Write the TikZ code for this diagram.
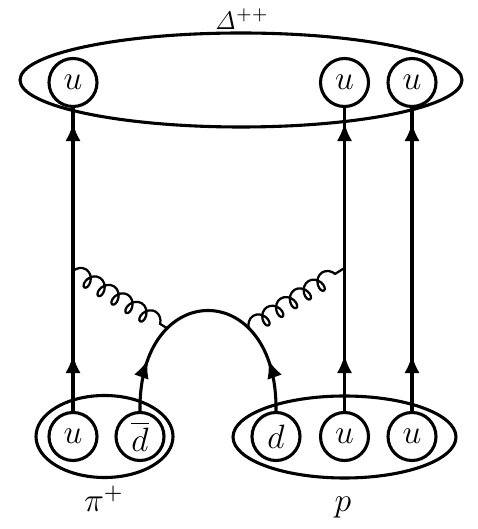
\documentclass[tikz,border=0pt]{standalone}
\usetikzlibrary{shapes.geometric,arrows.meta,decorations.markings,decorations.pathmorphing}

\tikzstyle{quarkNode}=[circle,draw,line width=1.1pt,minimum size=0.6cm,inner sep=0pt,font=\fontsize{12}{14}\selectfont]
\tikzstyle{hadronNode}=[ellipse,draw,line width=1.1pt,inner sep=0pt]
\tikzstyle{labelNode}=[anchor=base,inner sep=0pt,font=\fontsize{12}{14}\selectfont]
\tikzstyle{quarkLine}=[draw,line width=1.1pt,postaction={decorate},
  decoration={markings,
    mark=at position 0.7cm with {\arrow{Latex[length=6.5pt,width=5.5pt]}},
    mark=at position 3.6cm with {\arrow{Latex[length=6.5pt,width=5.5pt]}}}]
\tikzstyle{arcLine}=[draw,line width=1.1pt,postaction={decorate},
  decoration={markings,
    mark=at position 0.65cm with {\arrow{Latex[length=6.5pt,width=5.5pt]}},
    mark=at position -0.65cm with {\arrowreversed{Latex[length=6.5pt,width=5.5pt]}}}]
\tikzstyle{gluonLine}=[draw,line width=0.8pt,decorate,
  decoration={coil,amplitude=2.9pt,segment length=5.8pt,aspect=0.75}]

\begin{document}
\begin{tikzpicture}[x=1.25mm,y=1.25mm]

  \useasboundingbox (0,0) rectangle (47.7,52.9);

  % Delta++ at the top
  \node[hadronNode,minimum width=5.525cm,minimum height=1.175cm] (delta) at (24.1,44.9) {};
  \node[labelNode,font=\fontsize{9}{10}\selectfont] (deltaLabel) at (24.2,49.9) {$\mathit{\Delta}^{++}$};
  \node[quarkNode] (tu1) at (7.3,44.65) {$u$};
  \node[quarkNode] (tu2) at (34.45,44.65) {$u$};
  \node[quarkNode] (tu3) at (41.2,44.65) {$u$};

  % pi+ and p at the bottom
  \node[hadronNode,minimum width=1.7125cm,minimum height=1.025cm] (pion) at (10.45,9.25) {};
  \node[hadronNode,minimum width=2.7875cm,minimum height=1.025cm] (proton) at (34.45,9.2) {};
  \node[quarkNode] (bu1) at (7.3,9.25) {$u$};
  \node[quarkNode] (bdbar) at (14.0,9.25) {$\overline{d}$};
  \node[quarkNode] (bd) at (27.6,9.25) {$d$};
  \node[quarkNode] (bu2) at (34.45,9.25) {$u$};
  \node[quarkNode] (bu3) at (41.2,9.25) {$u$};
  \node[labelNode] (pionLabel) at (10.4,1.7) {$\pi^+$};
  \node[labelNode] (protonLabel) at (34.3,1.7) {$p$};

  \coordinate (vl) at (7.3,25.8);
  \coordinate (vr) at (34.45,26.1);

  \path[quarkLine](bu1.north)--(tu1.south);
  \path[quarkLine](bu2.north)--(tu2.south);
  \path[quarkLine](bu3.north)--(tu3.south);
  \path[arcLine](bdbar.north) .. controls (13.8,25.2) and (27.8,25.2) .. (bd.north)
    coordinate[pos=0.29] (gl) coordinate[pos=0.71] (gr);
  \path[gluonLine](vl)--(gl);
  \path[gluonLine](gr)--(vr);

\end{tikzpicture}
\end{document}
